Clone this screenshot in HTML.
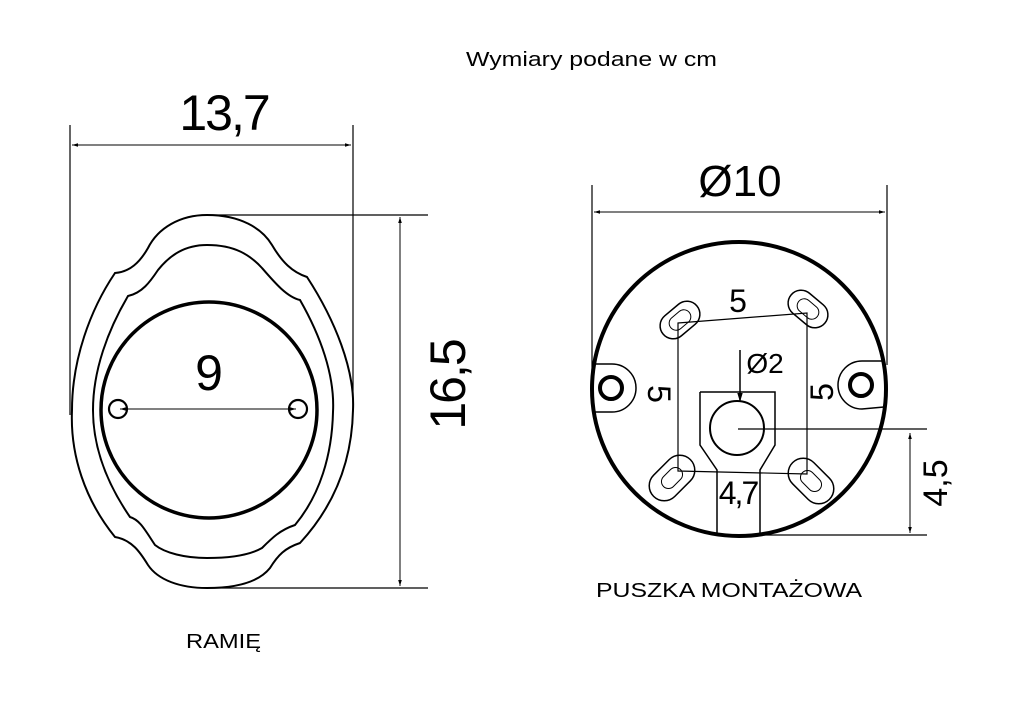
<!DOCTYPE html>
<html><head><meta charset="utf-8"><style>
html,body{margin:0;padding:0;background:#fff;}
svg{display:block;}
text{font-family:"Liberation Sans","DejaVu Sans",sans-serif;fill:#000;}
</style></head><body>
<svg width="1035" height="720" viewBox="0 0 1035 720" xmlns="http://www.w3.org/2000/svg">
<defs>
<marker id="a" viewBox="0 0 10 10" refX="10" refY="5" markerWidth="6" markerHeight="6" orient="auto-start-reverse"><path d="M0,2 L10,5 L0,8z" fill="#000"/></marker>
<g id="slot">
<rect x="-22" y="-13" width="44" height="26" rx="13" fill="none" stroke="#000" stroke-width="1.5"/>
<rect x="-12" y="-7" width="24" height="14" rx="7" fill="none" stroke="#000" stroke-width="1"/>
</g>
<g id="slot2">
<rect x="-26" y="-15" width="52" height="30" rx="15" fill="none" stroke="#000" stroke-width="1.5"/>
<rect x="-12" y="-7" width="24" height="14" rx="7" fill="none" stroke="#000" stroke-width="1"/>
</g>
</defs>
<text x="466" y="66" font-size="20" textLength="251" lengthAdjust="spacingAndGlyphs">Wymiary podane w cm</text>

<!-- LEFT -->
<g fill="none" stroke="#000">
<line x1="70" y1="125" x2="70" y2="415" stroke-width="1.2"/>
<line x1="353" y1="125" x2="353" y2="412" stroke-width="1.2"/>
<line x1="72" y1="145" x2="351" y2="145" stroke-width="1" marker-start="url(#a)" marker-end="url(#a)"/>
<line x1="207" y1="215" x2="428" y2="215" stroke-width="1.2"/>
<line x1="207" y1="588" x2="428" y2="588" stroke-width="1.2"/>
<line x1="400" y1="217" x2="400" y2="586" stroke-width="1" marker-start="url(#a)" marker-end="url(#a)"/>
<path stroke-width="2" d="M207,215 C240,215 262,228 272,245 C282,262 292,272 307,277 C335,320 355,370 353,410 C352,460 335,505 300,543 C285,548 278,555 270,568 C258,583 235,588 207,588 C180,588 158,580 148,565 C140,552 132,540 115,537 C85,500 70,455 72,410 C72,360 90,310 115,273 C130,272 140,262 148,248 C158,228 180,215 207,215Z"/>
<path stroke-width="2" d="M207,245 C235,245 250,255 262,268 C275,283 287,297 300,300 C320,335 335,375 333,412 C332,455 320,495 295,525 C280,530 272,538 262,548 C248,556 228,558 207,558 C185,558 165,553 155,545 C145,530 140,520 130,517 C108,485 93,450 93,410 C93,370 108,330 128,296 C142,293 150,282 158,270 C170,255 185,245 207,245Z"/>
<ellipse cx="209" cy="410" rx="108" ry="108" stroke-width="3.5"/>
<circle cx="118" cy="409" r="9" stroke-width="2.2"/>
<circle cx="298" cy="409" r="9" stroke-width="2.2"/>
<line x1="120" y1="409" x2="296" y2="409" stroke-width="1" marker-start="url(#a)" marker-end="url(#a)"/>
</g>
<text x="224" y="130" font-size="50" text-anchor="middle" letter-spacing="-2">13,7</text>
<text x="209" y="390" font-size="50" text-anchor="middle">9</text>
<text transform="translate(465,385) rotate(-90)" font-size="50" text-anchor="middle" letter-spacing="-2">16,5</text>
<text x="186" y="648" font-size="20" textLength="75" lengthAdjust="spacingAndGlyphs">RAMIĘ</text>

<!-- RIGHT -->
<g fill="none" stroke="#000">
<line x1="592" y1="185" x2="592" y2="375" stroke-width="1.2"/>
<line x1="887" y1="185" x2="887" y2="365" stroke-width="1.2"/>
<line x1="594" y1="212" x2="885" y2="212" stroke-width="1" marker-start="url(#a)" marker-end="url(#a)"/>
<circle cx="739" cy="389" r="147" stroke-width="4"/>
<path stroke-width="1.5" d="M594,364 L612,364 A24,24 0 0 1 612,412 L594,412"/>
<circle cx="611" cy="388" r="11" stroke-width="4"/>
<path stroke-width="1.5" d="M884,361 L862,361 A24,24 0 0 0 862,409 L884,407"/>
<circle cx="861" cy="385" r="11" stroke-width="4"/>
<use href="#slot" transform="translate(680,320) rotate(-40)"/>
<use href="#slot" transform="translate(808,309) rotate(40)"/>
<use href="#slot2" transform="translate(672,478) rotate(-45)"/>
<use href="#slot2" transform="translate(811,481) rotate(45)"/>
<path stroke-width="1.2" d="M678,323 L807,313 L807,474 L678,471 Z"/>
<path stroke-width="1.5" d="M700,392 L775,392 L775,445 L760,470 L760,533 M700,392 L700,445 L717,470 L717,533"/>
<circle cx="737" cy="428" r="27" stroke-width="2"/>
<line x1="740" y1="350" x2="740" y2="402" stroke-width="1.5" marker-end="url(#a)"/>
<line x1="738" y1="429" x2="927" y2="429" stroke-width="1.2"/>
<line x1="760" y1="535" x2="927" y2="535" stroke-width="1.2"/>
<line x1="910" y1="433" x2="910" y2="533" stroke-width="1" marker-start="url(#a)" marker-end="url(#a)"/>
</g>
<text x="740" y="196" font-size="44" text-anchor="middle">Ø10</text>
<text x="738" y="312" font-size="32" text-anchor="middle">5</text>
<text x="765" y="373" font-size="28" text-anchor="middle">Ø2</text>
<text transform="translate(648,394) rotate(90)" font-size="32" text-anchor="middle">5</text>
<text transform="translate(833,392) rotate(-90)" font-size="32" text-anchor="middle">5</text>
<text x="738" y="504" font-size="32" text-anchor="middle" letter-spacing="-2">4,7</text>
<text transform="translate(947,483) rotate(-90)" font-size="34" text-anchor="middle">4,5</text>
<text x="596" y="597" font-size="20" textLength="266" lengthAdjust="spacingAndGlyphs">PUSZKA MONTAŻOWA</text>
</svg>
</body></html>
